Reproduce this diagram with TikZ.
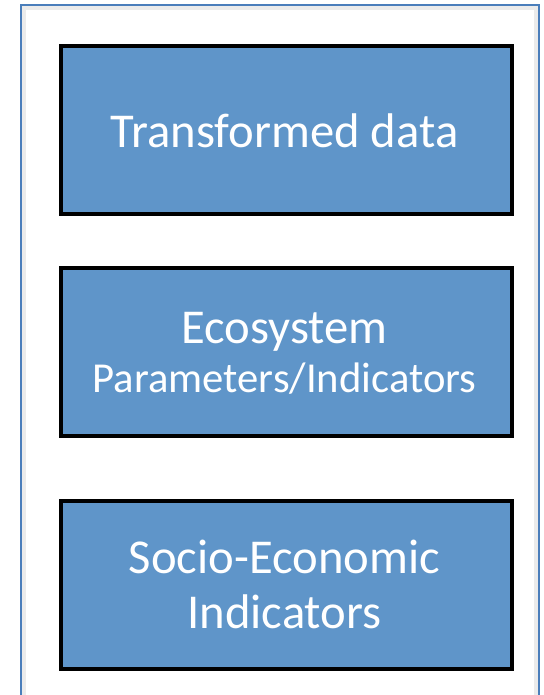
\documentclass[tikz,border=0pt]{standalone}
\usepackage{fontspec}
\setmainfont{Carlito}
\definecolor{boxfill}{HTML}{5F95C9}
\definecolor{framecol}{HTML}{4A7EBB}
\begin{document}
\begin{tikzpicture}[x=0.75pt,y=-0.75pt,
  bluebox/.style={draw=black,line width=3pt,fill=boxfill,anchor=north west,inner sep=0pt,minimum width=451*0.75pt,minimum height=168*0.75pt},
  bigtext/.style={text=white,anchor=base,inner sep=0pt,font=\fontsize{36.5}{41}\selectfont},
  smalltext/.style={bigtext,font=\fontsize{32}{38}\selectfont},
]
\useasboundingbox (0,0) rectangle (543,695);
\draw[color=black!8,line width=3pt] (24,700) -- (24,8) -- (536,8) -- (536,700);
\draw[framecol,line width=1.1pt] (21,700) -- (21,5) -- (539,5) -- (539,700);
\foreach \y in {44,266,499}{
  \fill[black!15] (62,\y+3) rectangle (513,\y+171);
}
\node[bluebox] (t) at (59,44) {};
\node[bluebox] (e) at (59,266) {};
\node[bluebox] (s) at (59,499) {};
\node[bigtext] (t1) at (284.5,148) {Transformed data};
\node[bigtext] (e1) at (284.5,343) {Ecosystem};
\node[smalltext] (e2) at (284.5,392) {Parameters/Indicators};
\node[bigtext] (s1) at (284.5,573) {Socio-Economic};
\node[bigtext] (s2) at (284.5,628) {Indicators};
\end{tikzpicture}
\end{document}
